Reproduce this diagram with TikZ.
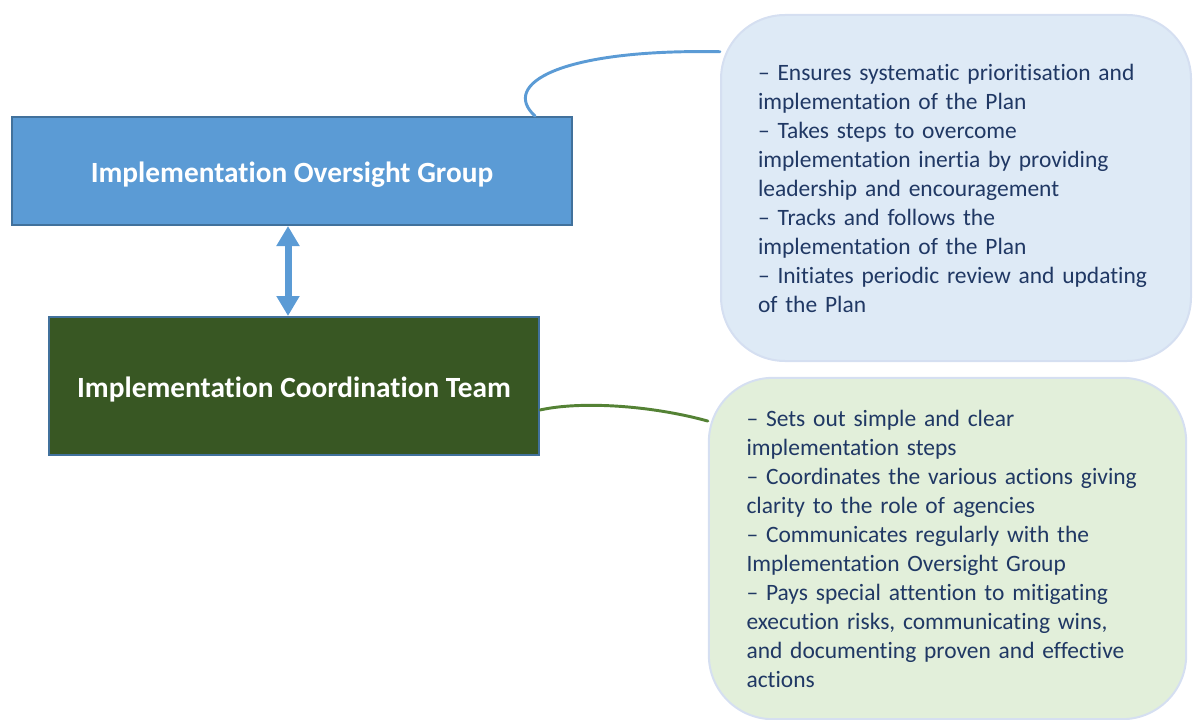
\documentclass[tikz,border=0pt]{standalone}
\usepackage{fontspec}
\setmainfont{Carlito}[Ligatures=NoCommon]
\usetikzlibrary{arrows.meta}

\definecolor{ovsblue}{HTML}{5B9BD5}
\definecolor{edgeblue}{HTML}{41719C}
\definecolor{teamgreen}{HTML}{385723}
\definecolor{linkgreen}{HTML}{548235}
\definecolor{noteblue}{HTML}{DEEAF6}
\definecolor{notegreen}{HTML}{E2EFDA}
\definecolor{noteedge}{HTML}{D5DFF1}
\definecolor{notetext}{HTML}{203864}

\tikzset{
  box/.style={draw=edgeblue, line width=1.5pt, text=white, text height=21pt, text depth=4pt,
    font=\fontsize{22}{26}\selectfont\bfseries},
  note/.style={draw=noteedge, line width=1.5pt, rounded corners=48pt, text=notetext, align=left,
    text width=297pt, font=\fontsize{17.6}{21.75}\selectfont},
  link/.style={line width=2.2pt},
  dblarrow/.style={ovsblue, line width=5.25pt, {Triangle[width=16.5pt,length=15pt]}-{Triangle[width=16.5pt,length=15pt]}}
}

\begin{document}
\begin{tikzpicture}[line cap=round, x=0.75pt, y=0.75pt]
            \useasboundingbox (0,0) rectangle (1194,719);
            \node[box, fill=ovsblue, minimum width=420pt, minimum height=81pt] (ovs) at (292,548) {Implementation Oversight Group};     %oversight
            \node[box, fill=teamgreen, minimum width=367.5pt, minimum height=103.5pt] (team) at (294,333) {Implementation Coordination Team};  %team
            \node[note, fill=noteblue, minimum width=352.5pt, minimum height=259.5pt] (ovsnote) at (956,531) {%
              \textendash{} Ensures systematic prioritisation and\\ implementation of the Plan\\
              \textendash{} Takes steps to overcome\\ implementation inertia by providing\\ leadership and encouragement\\
              \textendash{} Tracks and follows the\\ implementation of the Plan\\
              \textendash{} Initiates periodic review and updating\\ of the Plan};
            \node[note, fill=notegreen, text width=301.5pt, minimum width=358pt, minimum height=256pt] (teamnote) at (947.5,170.5) {%
              \textendash{} Sets out simple and clear\\ implementation steps\\
              \textendash{} Coordinates the various actions giving\\ clarity to the role of agencies\\
              \textendash{} Communicates regularly with the\\ Implementation Oversight Group\\
              \textendash{} Pays special attention to mitigating\\ execution risks, communicating wins,\\ and documenting proven and effective\\ actions};
            %\draw[red] (0,0) rectangle (1194,719);
            \draw[dblarrow] ([xshift=-3pt]ovs.south) -- ([xshift=-3pt]ovs.south |- team.north);   % ovs-team
            \draw[link, ovsblue] ([xshift=-28.5pt]ovs.north east) .. controls +(-35,32) and +(-160,3) .. (ovsnote.150);
            \draw[link, linkgreen] ([yshift=-18pt]team.east) .. controls +(40,9) and +(-58,16) .. (teamnote.152);
            \end{tikzpicture}
\end{document}
